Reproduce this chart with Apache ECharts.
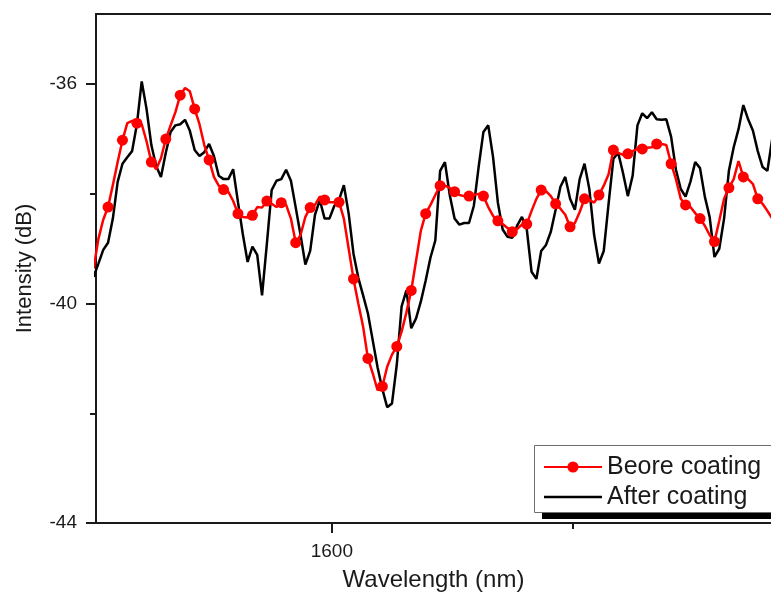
<!DOCTYPE html>
<html>
<head>
<meta charset="utf-8">
<title>Intensity vs wavelength</title>
<script src="https://cdn.jsdelivr.net/npm/echarts@6/dist/echarts.min.js"></script>
<style>
  html, body { margin: 0; padding: 0; background: #fff; }
  #chart { width: 771px; height: 597px; }
</style>
</head>
<body>
<div id="chart"></div>
<script>
// Spectra sampled on a uniform wavelength grid (nm)
const wavelengthStart = 1580.2;
const wavelengthStep = 0.4;

// Intensity (dB) before coating
const beforeCoating = [
  -39.36,-38.82,-38.47,-38.24,-37.84,-37.42,-37.02,-36.71,-36.67,-36.71,
  -36.73,-37.04,-37.42,-37.55,-37.35,-37.00,-36.75,-36.51,-36.20,-36.07,
  -36.13,-36.45,-36.73,-37.11,-37.38,-37.69,-37.85,-37.92,-37.96,-38.13,
  -38.36,-38.42,-38.43,-38.39,-38.24,-38.25,-38.13,-38.18,-38.24,-38.16,
  -38.20,-38.45,-38.89,-38.75,-38.42,-38.25,-38.20,-38.05,-38.11,-38.15,
  -38.15,-38.15,-38.45,-39.00,-39.55,-40.00,-40.42,-41.00,-41.27,-41.58,
  -41.51,-41.15,-40.93,-40.78,-40.51,-40.16,-39.76,-39.22,-38.67,-38.36,
  -38.20,-38.02,-37.85,-37.85,-37.89,-37.96,-38.02,-38.04,-38.04,-38.02,
  -38.00,-38.04,-38.24,-38.40,-38.49,-38.55,-38.62,-38.69,-38.64,-38.56,
  -38.55,-38.31,-38.09,-37.93,-37.95,-38.04,-38.18,-38.27,-38.38,-38.60,
  -38.53,-38.33,-38.09,-38.11,-38.16,-38.02,-37.85,-37.64,-37.20,-37.25,
  -37.29,-37.27,-37.22,-37.18,-37.18,-37.16,-37.15,-37.09,-37.09,-37.11,
  -37.45,-37.73,-38.09,-38.20,-38.24,-38.35,-38.45,-38.58,-38.75,-38.87,
  -38.49,-38.09,-37.89,-37.73,-37.40,-37.69,-37.73,-37.82,-38.09,-38.18,
  -38.31,-38.45
];

// Intensity (dB) after coating
const afterCoating = [
  -39.51,-39.27,-39.02,-38.89,-38.45,-37.78,-37.45,-37.33,-37.22,-36.73,
  -35.95,-36.45,-37.11,-37.49,-37.69,-37.25,-36.87,-36.75,-36.73,-36.65,
  -36.85,-37.20,-37.31,-37.24,-37.09,-37.31,-37.67,-37.73,-37.73,-37.55,
  -38.15,-38.73,-39.24,-38.96,-39.11,-39.85,-38.91,-37.93,-37.76,-37.73,
  -37.56,-37.76,-38.25,-38.75,-39.29,-39.04,-38.38,-38.11,-38.45,-38.45,
  -38.22,-38.11,-37.84,-38.36,-39.09,-39.53,-39.85,-40.18,-40.67,-41.16,
  -41.56,-41.89,-41.82,-41.11,-40.05,-39.76,-40.45,-40.27,-39.96,-39.58,
  -39.16,-38.85,-37.58,-37.42,-38.02,-38.45,-38.56,-38.53,-38.53,-38.22,
  -37.51,-36.87,-36.75,-37.33,-38.16,-38.65,-38.78,-38.80,-38.58,-38.42,
  -38.64,-39.42,-39.55,-39.04,-38.93,-38.69,-38.29,-37.87,-37.69,-38.09,
  -38.29,-37.73,-37.45,-37.91,-38.75,-39.27,-39.04,-38.18,-37.36,-37.25,
  -37.62,-38.04,-37.67,-36.75,-36.53,-36.62,-36.51,-36.64,-36.65,-36.64,
  -36.96,-37.56,-37.91,-38.05,-37.78,-37.42,-37.53,-38.05,-38.42,-39.15,
  -39.00,-38.45,-37.58,-37.15,-36.82,-36.38,-36.64,-36.85,-37.22,-37.51,
  -37.58,-37.00
];

// Axis ticks
const xMajorTicks = [1600];
const xMinorTicks = [1620];
const yMajorTicks = [-44, -40, -36];
const yMinorTicks = [-42, -38];

const seriesNames = ['Beore coating', 'After coating'];

const pair = (arr) => arr.map((v, i) => [+(wavelengthStart + i * wavelengthStep).toFixed(2), v]);

const FONT = '"Liberation Sans", Arial, sans-serif';
const INK = '#1a1a1a';
const X_MIN = 1580.4, X_MAX = 1636.5;
const Y_MIN = -44, Y_MAX = -34.72;

// legend frame with a hard drop shadow
const LEGEND_BOX = { x: 534, y: 445, w: 270, h: 67 };

const chart = echarts.init(document.getElementById('chart'), null, { renderer: 'canvas' });

chart.setOption({
  backgroundColor: '#ffffff',
  animation: false,
  grid: { left: 96, top: 14, right: 0, bottom: 72, containLabel: false },
  graphic: [
    {
      type: 'rect', z: 10, silent: true,
      shape: { x: LEGEND_BOX.x + 8, y: LEGEND_BOX.y + 7, width: LEGEND_BOX.w, height: LEGEND_BOX.h },
      style: { fill: '#000000' }
    },
    {
      type: 'rect', z: 10, silent: true,
      shape: { x: LEGEND_BOX.x + 0.5, y: LEGEND_BOX.y + 0.5, width: LEGEND_BOX.w, height: LEGEND_BOX.h },
      style: { fill: '#ffffff', stroke: '#6e6e6e', lineWidth: 1 }
    }
  ],
  legend: {
    z: 11,
    orient: 'vertical',
    left: LEGEND_BOX.x,
    top: LEGEND_BOX.y,
    padding: [9, 10, 2, 9],
    itemGap: 4,
    itemWidth: 58,
    itemHeight: 14,
    textStyle: { fontSize: 25, lineHeight: 26, color: INK, fontFamily: FONT },
    data: [
      { name: seriesNames[0] },
      { name: seriesNames[1], icon: 'path://M0,0 L58,0 L58,2.5 L0,2.5 Z' }
    ]
  },
  xAxis: [
    {
      type: 'value', min: X_MIN, max: X_MAX, position: 'bottom',
      name: 'Wavelength (nm)', nameLocation: 'middle', nameGap: 45,
      nameTextStyle: { fontSize: 24, color: INK, fontFamily: FONT },
      axisLine: { show: true, lineStyle: { color: INK, width: 2 } },
      axisTick: { show: true, customValues: xMajorTicks, length: 10, lineStyle: { color: INK, width: 2 } },
      axisLabel: { customValues: xMajorTicks, formatter: (v) => String(v), fontSize: 19, color: INK, fontFamily: FONT, margin: 19 },
      splitLine: { show: false }
    },
    {
      type: 'value', min: X_MIN, max: X_MAX, position: 'bottom',
      axisLine: { show: false },
      axisTick: { show: true, customValues: xMinorTicks, length: 6, lineStyle: { color: INK, width: 2 } },
      axisLabel: { show: false },
      splitLine: { show: false }
    },
    {
      type: 'value', min: X_MIN, max: X_MAX, position: 'top',
      axisLine: { show: true, lineStyle: { color: INK, width: 2 } },
      axisTick: { show: false },
      axisLabel: { show: false },
      splitLine: { show: false }
    }
  ],
  yAxis: [
    {
      type: 'value', min: Y_MIN, max: Y_MAX, position: 'left',
      name: 'Intensity (dB)', nameLocation: 'middle', nameGap: 60, nameRotate: 90,
      nameTextStyle: { fontSize: 22, color: INK, fontFamily: FONT },
      axisLine: { show: true, lineStyle: { color: INK, width: 2 } },
      axisTick: { show: true, customValues: yMajorTicks, length: 10, lineStyle: { color: INK, width: 2 } },
      axisLabel: { customValues: yMajorTicks, formatter: (v) => String(v), fontSize: 19, color: INK, fontFamily: FONT, margin: 19 },
      splitLine: { show: false }
    },
    {
      type: 'value', min: Y_MIN, max: Y_MAX, position: 'left',
      axisLine: { show: false },
      axisTick: { show: true, customValues: yMinorTicks, length: 6, lineStyle: { color: INK, width: 2 } },
      axisLabel: { show: false },
      splitLine: { show: false }
    }
  ],
  series: [
    {
      name: seriesNames[0],
      type: 'line',
      xAxisIndex: 0, yAxisIndex: 0,
      data: pair(beforeCoating),
      z: 4,
      color: '#ff0000',
      lineStyle: { color: '#ff0000', width: 2.5 },
      itemStyle: { color: '#ff0000' },
      symbol: 'circle',
      showSymbol: true,
      showAllSymbol: true,
      symbolSize: (value, params) => (params.dataIndex % 3 === 0 ? 11 : 0),
      clip: true,
      emphasis: { disabled: true }
    },
    {
      name: seriesNames[1],
      type: 'line',
      xAxisIndex: 0, yAxisIndex: 0,
      data: pair(afterCoating),
      z: 3,
      color: '#000000',
      lineStyle: { color: '#000000', width: 2.5 },
      symbol: 'none',
      showSymbol: false,
      clip: true,
      emphasis: { disabled: true }
    }
  ]
});
</script>
</body>
</html>
